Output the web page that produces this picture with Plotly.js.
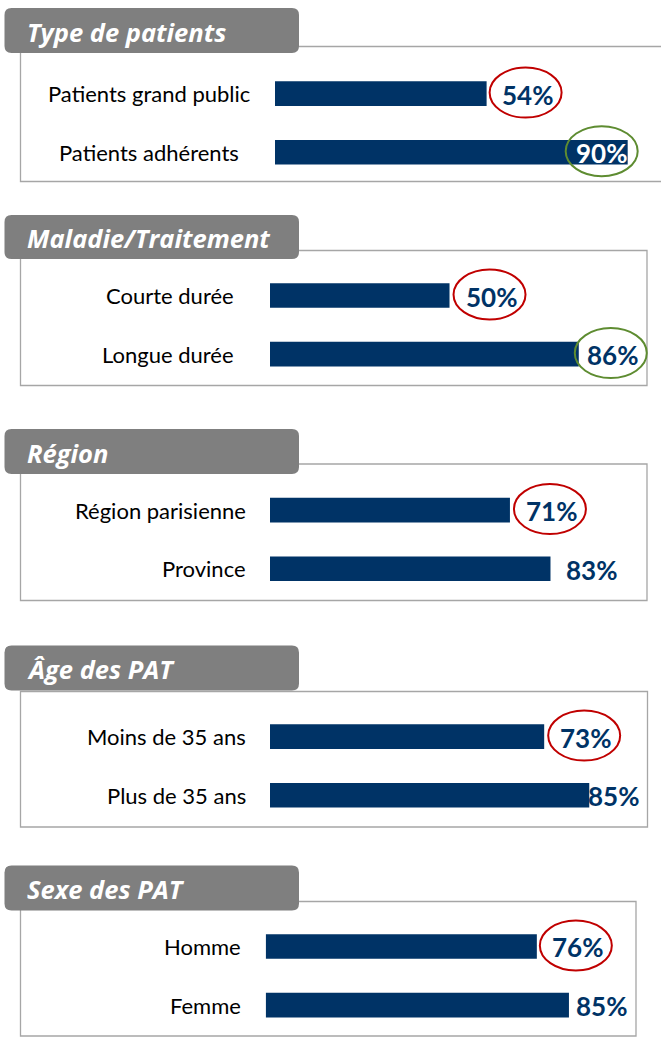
<!DOCTYPE html>
<html>
<head>
<meta charset="utf-8">
<script src="https://cdn.plot.ly/plotly-3.0.1.min.js"></script>
<style>
  html, body { margin: 0; padding: 0; background: #fff; }
  #chart { width: 661px; height: 1037px; }
</style>
</head>
<body>
<div id="chart"></div>
<script>
// panel titles
var titles = ['Type de patients', 'Maladie/Traitement', 'Région', 'Âge des PAT', 'Sexe des PAT']

// rows of each panel
var labels1 = ['Patients grand public', 'Patients adhérents']
var values1 = [54, 90]
var marks1 = ['low', 'high']

var labels2 = ['Courte durée', 'Longue durée']
var values2 = [50, 86]
var marks2 = ['low', 'high']

var labels3 = ['Région parisienne', 'Province']
var values3 = [71, 83]
var marks3 = ['low', null]

var labels4 = ['Moins de 35 ans', 'Plus de 35 ans']
var values4 = [73, 85]
var marks4 = ['low', null]

var labels5 = ['Homme', 'Femme']
var values5 = [76, 85]
var marks5 = ['low', null]

var allLabels = [labels1, labels2, labels3, labels4, labels5]
var allValues = [values1, values2, values3, values4, values5]
var allMarks = [marks1, marks2, marks3, marks4, marks5]

// geometry of each panel, in page pixels
var W = 661, H = 1037
var geo = [
	{tabTop: 8, tabBottom: 53, boxTop: 46.5, boxBottom: 181.5, boxRight: 680, barStart: 275, rowMid: 122.9, axisMax: 98.5,
		labelX: 149, labelAnchor: 'center', gaps: [16, 'in']},
	{tabTop: 215, tabBottom: 259, boxTop: 250.5, boxBottom: 385.5, boxRight: 647, barStart: 270, rowMid: 324.8, axisMax: 108.9,
		labelX: 236, labelAnchor: 'right', gaps: [17, 9]},
	{tabTop: 429, tabBottom: 474, boxTop: 464, boxBottom: 600.5, boxRight: 647, barStart: 270, rowMid: 539.4, axisMax: 115.7,
		labelX: 248, labelAnchor: 'right', gaps: [17, 17]},
	{tabTop: 645.5, tabBottom: 690.5, boxTop: 691.5, boxBottom: 827, boxRight: 647.5, barStart: 270, rowMid: 765.9, axisMax: 104.1,
		labelX: 248, labelAnchor: 'right', gaps: [17, 0]},
	{tabTop: 865.5, tabBottom: 910.5, boxTop: 901.5, boxBottom: 1036, boxRight: 636, barStart: 265.7, rowMid: 975.8, axisMax: 110.8,
		labelX: 243, labelAnchor: 'right', gaps: [16, 8]}
]
var rowStep = 58.6

var navy = '#003366'
var markColors = {low: '#C00000', high: '#5E8C31'}
var fontName = 'Lato, "Open Sans", sans-serif'
var titleFont = '"Open Sans", Lato, sans-serif'

function fx(x){ return x / W }
function fy(y){ return 1 - y / H }

// rounded rectangle in paper units
function tabPath(x0, y0, x1, y1, r){
	var rx = r / W, ry = r / H
	var L = fx(x0), R = fx(x1), T = fy(y0), B = fy(y1)
	return 'M' + L + ',' + (B + ry) +
		' L' + L + ',' + (T - ry) +
		' Q' + L + ',' + T + ' ' + (L + rx) + ',' + T +
		' L' + (R - rx) + ',' + T +
		' Q' + R + ',' + T + ' ' + R + ',' + (T - ry) +
		' L' + R + ',' + (B + ry) +
		' Q' + R + ',' + B + ' ' + (R - rx) + ',' + B +
		' L' + (L + rx) + ',' + B +
		' Q' + L + ',' + B + ' ' + L + ',' + (B + ry) + ' Z'
}

var data = []
var shapes = []
var annotations = []
var layout = {
	width: W,
	height: H,
	margin: {l: 0, r: 0, t: 0, b: 0},
	paper_bgcolor: '#fff',
	plot_bgcolor: 'rgba(0,0,0,0)',
	showlegend: false,
	font: {family: fontName},
	hovermode: false
}

geo.forEach(function(g, i){
	var n = i + 1
	var xa = n === 1 ? 'x' : 'x' + n
	var ya = n === 1 ? 'y' : 'y' + n
	var labels = allLabels[i], values = allValues[i], marks = allMarks[i]

	layout['xaxis' + (n === 1 ? '' : n)] = {
		domain: [fx(g.barStart), 1],
		range: [0, g.axisMax],
		visible: false,
		fixedrange: true,
		anchor: ya
	}
	layout['yaxis' + (n === 1 ? '' : n)] = {
		domain: [fy(g.rowMid + rowStep), fy(g.rowMid - rowStep)],
		range: [1.5, -0.5],
		type: 'category',
		categoryorder: 'array',
		categoryarray: labels,
		visible: false,
		fixedrange: true,
		anchor: xa
	}

	data.push({
		type: 'bar',
		orientation: 'h',
		x: values,
		y: labels,
		xaxis: xa,
		yaxis: ya,
		width: 0.42,
		marker: {color: navy, line: {width: 0}},
		hoverinfo: 'skip'
	})

	// frame and tab
	shapes.push({
		type: 'rect', xref: 'paper', yref: 'paper', layer: 'below',
		x0: fx(20.5), x1: fx(g.boxRight), y0: fy(g.boxBottom), y1: fy(g.boxTop),
		line: {color: '#A6A6A6', width: 1.3}, fillcolor: 'rgba(0,0,0,0)'
	})
	shapes.push({
		type: 'path', xref: 'paper', yref: 'paper',
		path: tabPath(4.5, g.tabTop, 299, g.tabBottom, 7),
		fillcolor: '#7F7F7F', line: {width: 0}
	})
	annotations.push({
		xref: 'paper', yref: 'paper',
		x: fx(25), y: fy((g.tabTop + g.tabBottom) / 2 + 1),
		xanchor: 'left', yanchor: 'middle',
		text: titles[i], showarrow: false,
		font: {family: titleFont, size: 25.5, color: '#fff', weight: 'bold', style: 'italic'}
	})

	labels.forEach(function(lab, j){
		// category label
		annotations.push({
			xref: 'paper', yref: ya,
			x: fx(g.labelX), y: lab,
			xanchor: g.labelAnchor, yanchor: 'middle',
			text: lab, showarrow: false,
			font: {family: fontName, size: 22, color: '#000'}
		})
		// value label
		var inside = g.gaps[j] === 'in'
		annotations.push({
			xref: xa, yref: ya,
			x: values[j], y: lab,
			xanchor: inside ? 'right' : 'left', yanchor: 'middle',
			xshift: inside ? 1 : g.gaps[j] - 3,
			yshift: -1,
			text: values[j] + '%', showarrow: false,
			font: {family: fontName, size: 26, color: inside ? '#fff' : navy, weight: 'bold'}
		})
		// highlight ring
		if(marks[j]){
			var c = inside ? -26 : g.gaps[j] + 23
			shapes.push({
				type: 'circle', xref: xa, yref: ya,
				xsizemode: 'pixel', ysizemode: 'pixel',
				xanchor: values[j], yanchor: lab,
				x0: c - 36, x1: c + 36, y0: -24, y1: 26,
				line: {color: markColors[marks[j]], width: 2},
				fillcolor: 'rgba(0,0,0,0)'
			})
		}
	})
})

layout.shapes = shapes
layout.annotations = annotations

Plotly.newPlot('chart', data, layout, {displayModeBar: false, staticPlot: true})
</script>
</body>
</html>
